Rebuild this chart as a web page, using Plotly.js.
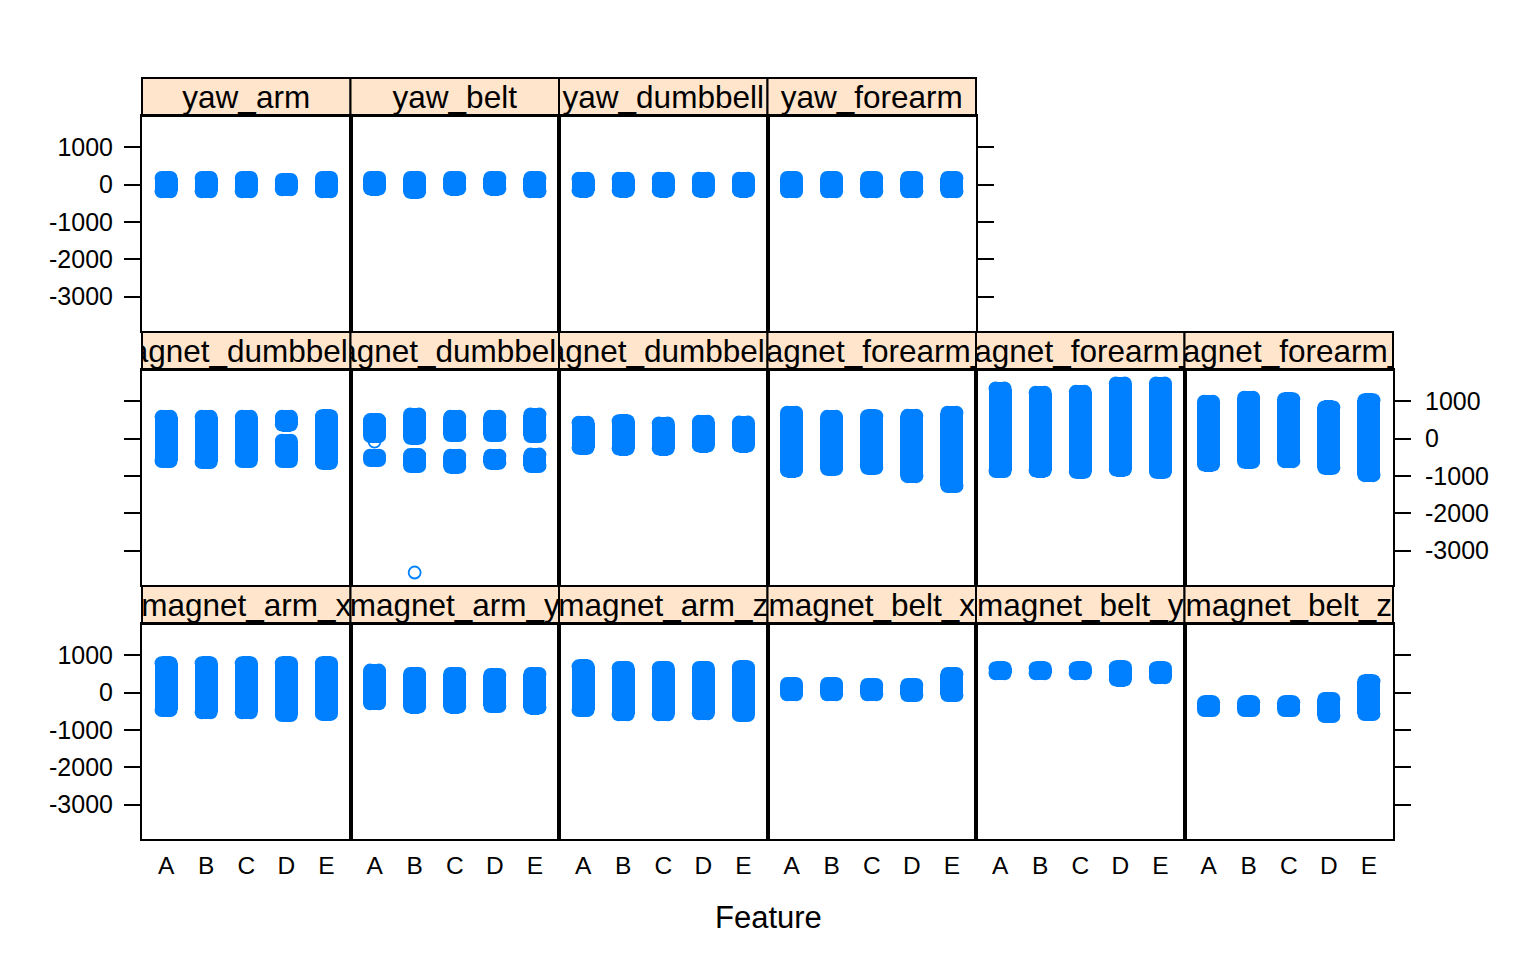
<!DOCTYPE html>
<html>
<head>
<meta charset="utf-8">
<script src="https://cdn.plot.ly/plotly-3.0.1.min.js"></script>
<style>html,body{margin:0;padding:0;background:#fff;}#chart{width:1536px;height:960px;}</style>
</head>
<body>
<div id="chart"></div>
<script>
// ---------------- data ----------------
const categories = ['A', 'B', 'C', 'D', 'E'];
const tickVals = [-3000, -2000, -1000, 0, 1000];
const tickText = ['-3000', '-2000', '-1000', '0', '1000'];
const xTitle = 'Feature';

// value extents [low, high] per class A..E
const magnet_arm_x = [[-468, 786], [-529, 786], [-529, 786], [-600, 786], [-570, 786]];
const magnet_arm_y = [[-287, 590], [-375, 501], [-375, 501], [-360, 474], [-402, 501]];
const magnet_arm_z = [[-466, 705], [-583, 661], [-583, 661], [-556, 661], [-600, 680]];
const magnet_belt_x = [[-46, 231], [-46, 231], [-46, 204], [-63, 204], [-63, 500]];
const magnet_belt_y = [[519, 653], [519, 653], [519, 653], [349, 680], [412, 653]];
const magnet_belt_z = [[-468, -261], [-468, -261], [-468, -261], [-629, -172], [-575, 304]];

const magnet_dumbbell_x = [[-603, 584], [-630, 584], [-603, 584], [-603, -59], [-650, 600]];
const magnet_dumbbell_x_extra = [null, null, null, [378, 584], null];
const magnet_dumbbell_y = [[67, 496], [21, 646], [94, 584], [94, 584], [67, 646]];
const magnet_dumbbell_y_extra = [[-576, -461], [-737, -442], [-756, -461], [-649, -461], [-737, -428]];
const magnet_dumbbell_y_out_x = ['A', 'B'];
const magnet_dumbbell_y_out_y = [-78, -3590];
const magnet_dumbbell_z = [[-247, 424], [-265, 469], [-265, 405], [-185, 450], [-185, 429]];
const magnet_forearm_x = [[-855, 692], [-810, 584], [-783, 600], [-1006, 611], [-1273, 692]];
const magnet_forearm_y = [[-871, 1343], [-855, 1228], [-890, 1254], [-828, 1477], [-890, 1477]];
const magnet_forearm_z = [[-694, 987], [-622, 1094], [-604, 1059], [-783, 836], [-979, 1032]];

const yaw_arm = [[-180, 180], [-180, 180], [-180, 180], [-125, 125], [-180, 180]];
const yaw_belt = [[-107, 180], [-190, 180], [-107, 180], [-107, 180], [-180, 180]];
const yaw_dumbbell = [[-160, 160], [-160, 160], [-160, 160], [-160, 160], [-160, 160]];
const yaw_forearm = [[-180, 180], [-180, 180], [-180, 180], [-180, 180], [-180, 180]];

// panel order (lattice: bottom row first, left to right)
const panels = [
  ['magnet_arm_x', magnet_arm_x, null],
  ['magnet_arm_y', magnet_arm_y, null],
  ['magnet_arm_z', magnet_arm_z, null],
  ['magnet_belt_x', magnet_belt_x, null],
  ['magnet_belt_y', magnet_belt_y, null],
  ['magnet_belt_z', magnet_belt_z, null],
  ['magnet_dumbbell_x', magnet_dumbbell_x, magnet_dumbbell_x_extra],
  ['magnet_dumbbell_y', magnet_dumbbell_y, magnet_dumbbell_y_extra],
  ['magnet_dumbbell_z', magnet_dumbbell_z, null],
  ['magnet_forearm_x', magnet_forearm_x, null],
  ['magnet_forearm_y', magnet_forearm_y, null],
  ['magnet_forearm_z', magnet_forearm_z, null],
  ['yaw_arm', yaw_arm, null],
  ['yaw_belt', yaw_belt, null],
  ['yaw_dumbbell', yaw_dumbbell, null],
  ['yaw_forearm', yaw_forearm, null]
];

// ---------------- styling / layout ----------------
const W = 1536, H = 960;
const FONT = 'Liberation Sans, Arial, Helvetica, sans-serif';
const BLUE = '#0080ff';
const STRIP = '#ffe5cc';
const NCOL = 6;
const colLeft0 = 142, colW = 208.5;
const rowTop0 = 78, rowStep = 254, stripH = 38, panelH = 215;
const yRange = [-3925, 1840];
const xRange = [-0.6, 4.6];
const pxPerX = colW / (xRange[1] - xRange[0]);
const rPx = 7;                 // point radius (px)
const stripWPx = 23;           // jittered strip width (px)
const wFull = stripWPx / pxPerX;
const wInner = (stripWPx - 2 * rPx) / pxPerX;
const xOff = (stripWPx / 2 - rPx) / pxPerX;
const pad = rPx * (yRange[1] - yRange[0]) / panelH;

const data = [];
const layout = {
  width: W, height: H, autosize: false,
  margin: {l: 0, r: 0, t: 0, b: 0, pad: 0},
  paper_bgcolor: '#ffffff', plot_bgcolor: 'rgba(0,0,0,0)',
  showlegend: false, barmode: 'overlay', bargap: 0,
  font: {family: FONT, color: '#000000'},
  shapes: [], annotations: []
};

function axName(n) { return n === 1 ? '' : String(n); }
const catIdx = categories.map((c, k) => k);

const nPan = panels.length;
const rowCounts = [6, 6, 4];

panels.forEach((p, i) => {
  const name = p[0];
  const rowFromBottom = Math.floor(i / NCOL);
  const col = i % NCOL;
  const r = 2 - rowFromBottom;           // 0 = top row
  const stripTop = rowTop0 + r * rowStep;
  const stripBot = stripTop + stripH;
  const panelBot = stripBot + panelH;
  const xl = colLeft0 + col * colW, xr = xl + colW;
  const xd = [xl / W, xr / W];
  const n = i + 1, s = i + 1 + nPan;
  const lastCol = col === rowCounts[rowFromBottom] - 1;
  const xa = 'x' + axName(n), ya = 'y' + axName(n);

  // panel axes
  const yax = {
    domain: [1 - panelBot / H, 1 - stripBot / H], range: yRange, anchor: xa,
    showline: true, mirror: true, linecolor: '#000', linewidth: 2,
    showgrid: false, zeroline: false, fixedrange: true,
    tickvals: tickVals, ticktext: tickText,
    tickfont: {family: FONT, size: 25, color: '#000'},
    ticks: '', showticklabels: false
  };
  if (col === 0) {
    yax.side = 'left'; yax.ticks = 'outside'; yax.ticklen = 16; yax.tickwidth = 2; yax.tickcolor = '#000';
    yax.showticklabels = rowFromBottom !== 1; yax.ticklabelstandoff = 6;
  } else if (lastCol) {
    yax.side = 'right'; yax.ticks = 'outside'; yax.ticklen = 16; yax.tickwidth = 2; yax.tickcolor = '#000';
    yax.showticklabels = rowFromBottom === 1; yax.ticklabelstandoff = 9;
  }
  layout['yaxis' + axName(n)] = yax;
  layout['xaxis' + axName(n)] = {
    domain: xd, range: xRange, anchor: ya,
    tickvals: catIdx, ticktext: categories,
    showline: true, mirror: true, linecolor: '#000', linewidth: 2,
    showgrid: false, zeroline: false, fixedrange: true, ticks: '',
    showticklabels: rowFromBottom === 0, ticklabelstandoff: 4,
    tickfont: {family: FONT, size: 24.5, color: '#000'}
  };

  // strip axes
  layout['xaxis' + s] = {domain: xd, range: [0, 1], anchor: 'y' + s, visible: false, fixedrange: true};
  layout['yaxis' + s] = {domain: [1 - stripBot / H, 1 - stripTop / H], range: [0, 1], anchor: 'x' + s, visible: false, fixedrange: true};
  layout.shapes.push({
    type: 'rect', xref: 'paper', yref: 'paper', layer: 'below',
    x0: xd[0], x1: xd[1], y0: 1 - stripBot / H, y1: 1 - stripTop / H,
    fillcolor: STRIP, line: {color: '#000', width: 2}
  });
  data.push({
    type: 'scatter', mode: 'text', x: [0.5], y: [0.42], text: [name],
    textposition: 'middle center', textfont: {family: FONT, size: 31.5, color: '#000'},
    cliponaxis: true, xaxis: 'x' + s, yaxis: 'y' + s, hoverinfo: 'skip'
  });

  // strips of jittered points: rounded rectangle = two bars + circles at the extreme points
  const addSegs = (segs) => {
    const xs = [], bLo = [], bHiA = [], bHiB = [], bLoB = [];
    const cx = [], cy = [];
    segs.forEach((v, k) => {
      if (!v) return;
      xs.push(k); bLo.push(v[0]); bHiA.push(v[1] - v[0]);
      bLoB.push(v[0] - pad); bHiB.push(v[1] - v[0] + 2 * pad);
      [v[0], v[1]].forEach(val => { cx.push(k - xOff, k + xOff); cy.push(val, val); });
    });
    data.push({type: 'bar', x: xs, base: bLo, y: bHiA, width: wFull, xaxis: xa, yaxis: ya,
      hoverinfo: 'skip', marker: {color: BLUE, line: {width: 0}}});
    data.push({type: 'bar', x: xs, base: bLoB, y: bHiB, width: wInner, xaxis: xa, yaxis: ya,
      hoverinfo: 'skip', marker: {color: BLUE, line: {width: 0}}});
    data.push({type: 'scatter', mode: 'markers', x: cx, y: cy, xaxis: xa, yaxis: ya,
      hoverinfo: 'skip', cliponaxis: false,
      marker: {symbol: 'circle', size: 2 * rPx, color: BLUE, line: {width: 0}}});
  };
  addSegs(p[1]);
  if (p[2]) addSegs(p[2]);
  if (name === 'magnet_dumbbell_y') {
    data.push({
      type: 'scatter', mode: 'markers',
      x: magnet_dumbbell_y_out_x.map(c => categories.indexOf(c)), y: magnet_dumbbell_y_out_y,
      xaxis: xa, yaxis: ya, hoverinfo: 'skip', cliponaxis: false,
      marker: {symbol: 'circle-open', size: 12, color: BLUE, line: {width: 1.8, color: BLUE}}
    });
  }
});

layout.annotations.push({
  text: xTitle, xref: 'paper', yref: 'paper', x: 768 / W, y: 1 - 917 / H,
  xanchor: 'center', yanchor: 'middle', showarrow: false,
  font: {family: FONT, size: 31, color: '#000'}
});

Plotly.newPlot('chart', data, layout, {displayModeBar: false, staticPlot: true});
</script>
</body>
</html>
